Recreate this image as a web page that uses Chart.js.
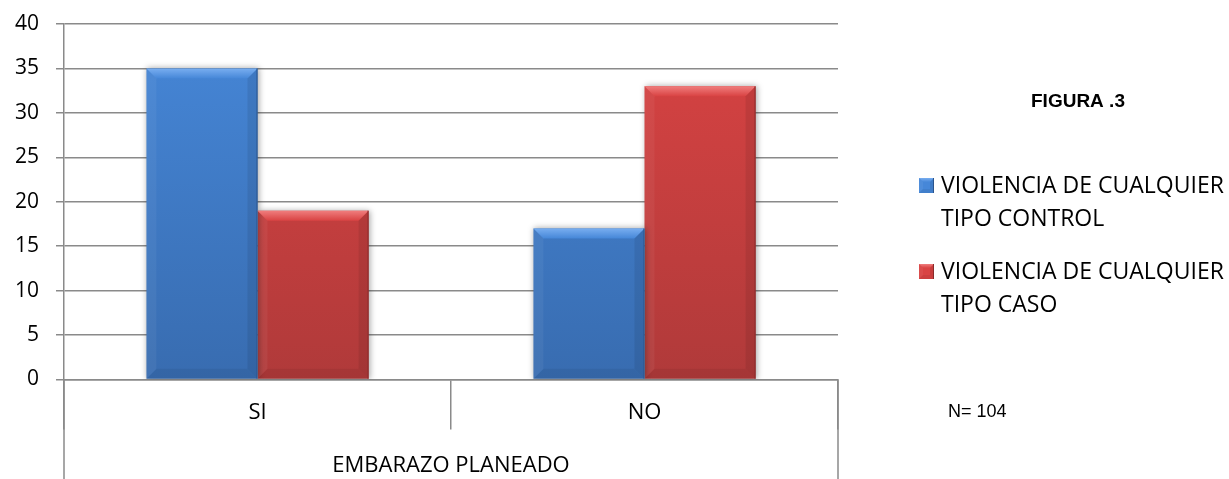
<!DOCTYPE html>
<html><head><meta charset="utf-8">
<script src="https://cdn.jsdelivr.net/npm/chart.js@4/dist/chart.umd.min.js"></script>
<style>html,body{margin:0;padding:0;background:#fff}#wrap{width:1229px;height:479px;position:relative}</style>
</head><body><div id="wrap"><canvas id="c"></canvas></div>
<script>
const categories = ['SI', 'NO'];
const seriesNames = ['VIOLENCIA DE CUALQUIER TIPO CONTROL', 'VIOLENCIA DE CUALQUIER TIPO CASO'];
const legendLines = [['VIOLENCIA DE CUALQUIER', 'TIPO CONTROL'], ['VIOLENCIA DE CUALQUIER', 'TIPO CASO']];
const controlValues = [35, 17];
const casoValues = [19, 33];
const yMin = 0, yMax = 40, yStep = 5;
const axisTitle = 'EMBARAZO PLANEADO';
const figureTitle = 'FIGURA .3';
const sampleNote = 'N= 104';

const palettes = [
  {top: '#4687d8', bottom: '#386cb0', light: '#79aef0', dark: '#2b548c'},
  {top: '#d94343', bottom: '#b03a3a', light: '#f07e7e', dark: '#8a2a2a'}
];
const gridColor = '#8a8a8a';
const textFont = "'Open Sans'";

function barFill(i) {
  return (c) => {
    const a = c.chart.chartArea;
    if (!a) return palettes[i].top;
    const g = c.chart.ctx.createLinearGradient(0, a.top, 0, a.bottom);
    g.addColorStop(0, palettes[i].top);
    g.addColorStop(1, palettes[i].bottom);
    return g;
  };
}
function poly(ctx, pts) {
  ctx.beginPath();
  ctx.moveTo(pts[0][0], pts[0][1]);
  for (let k = 1; k < pts.length; k++) ctx.lineTo(pts[k][0], pts[k][1]);
  ctx.closePath();
}
function drawBevel(ctx, l, t, r, b, p, s) {
  ctx.save();
  let g = ctx.createLinearGradient(0, t, 0, t + s);
  g.addColorStop(0, p.light); g.addColorStop(1, p.top);
  poly(ctx, [[l, t], [r, t], [r - s, t + s], [l + s, t + s]]); ctx.fillStyle = g; ctx.fill();
  poly(ctx, [[l, t], [l + s, t + s], [l + s, b - s], [l, b]]); ctx.fillStyle = 'rgba(255,255,255,0.05)'; ctx.fill();
  poly(ctx, [[r, t], [r, b], [r - s, b - s], [r - s, t + s]]); ctx.fillStyle = 'rgba(0,0,0,0.08)'; ctx.fill();
  poly(ctx, [[l, b], [r, b], [r - s, b - s], [l + s, b - s]]); ctx.fillStyle = 'rgba(0,0,0,0.06)'; ctx.fill();
  ctx.strokeStyle = p.dark; ctx.lineWidth = 1;
  ctx.beginPath(); ctx.moveTo(r - 0.5, t); ctx.lineTo(r - 0.5, b); ctx.stroke();
  ctx.restore();
}

const shadowPlugin = {
  id: 'shadow',
  beforeDatasetsDraw(chart) {
    const ctx = chart.ctx; ctx.save();
    ctx.shadowColor = 'rgba(0,0,0,0.35)'; ctx.shadowBlur = 6; ctx.shadowOffsetX = 1; ctx.shadowOffsetY = 0;
  },
  afterDatasetsDraw(chart) {
    const ctx = chart.ctx; ctx.restore();
    chart.data.datasets.forEach((ds, di) => {
      chart.getDatasetMeta(di).data.forEach(el => {
        const {x, y, width, base} = el.getProps(['x', 'y', 'width', 'base'], true);
        drawBevel(ctx, x - width / 2, y, x + width / 2, base, palettes[di], 10);
      });
    });
  }
};

const decorPlugin = {
  id: 'decor',
  afterDraw(chart) {
    const ctx = chart.ctx, a = chart.chartArea, H = chart.height;
    ctx.save();
    ctx.strokeStyle = gridColor; ctx.lineWidth = 1.5;
    [a.left, a.right].forEach(x => {
      ctx.beginPath(); ctx.moveTo(x, a.bottom); ctx.lineTo(x, H); ctx.stroke();
    });
    ctx.fillStyle = '#000';
    ctx.textBaseline = 'alphabetic';
    ctx.font = "bold 19px 'Liberation Sans'";
    ctx.fillText(figureTitle, 1031, 107);
    ctx.font = "18px 'Liberation Sans'";
    ctx.fillText(sampleNote, 948, 417);
    const centers = [[185.5, 218.5], [271.5, 304.5]];
    ctx.font = "23px " + textFont;
    ctx.textBaseline = 'middle';
    chart.data.datasets.forEach((ds, di) => {
      const c = centers[di];
      const mt = c[0] - 7.5;
      ctx.fillStyle = palettes[di].top;
      ctx.fillRect(919, mt, 15, 15);
      drawBevel(ctx, 919, mt, 934, mt + 15, palettes[di], 4);
      ctx.fillStyle = '#000';
      legendLines[di].forEach((ln, li) => ctx.fillText(ln, 941, c[li] + 1));
    });
    ctx.restore();
  }
};

new Chart(document.getElementById('c'), {
  type: 'bar',
  data: {
    labels: categories,
    datasets: [
      {label: seriesNames[0], data: controlValues, backgroundColor: barFill(0), borderWidth: 0},
      {label: seriesNames[1], data: casoValues, backgroundColor: barFill(1), borderWidth: 0}
    ]
  },
  options: {
    responsive: true, maintainAspectRatio: false, animation: false,
    layout: {padding: {top: 24, right: 391, left: 0, bottom: 0}},
    datasets: {bar: {categoryPercentage: 0.574, barPercentage: 1}},
    plugins: {legend: {display: false}, tooltip: {enabled: false}},
    scales: {
      y: {
        min: yMin, max: yMax,
        ticks: {stepSize: yStep, color: '#000', font: {family: textFont, size: 21}, padding: 17},
        grid: {color: gridColor, lineWidth: 1.5, drawTicks: true, tickLength: 8},
        border: {display: true, color: gridColor, width: 1.5},
        afterFit(s) { s.width = 64; s.paddingTop = 0; s.paddingBottom = 0; }
      },
      x: {
        offset: true,
        ticks: {color: '#000', font: {family: textFont, size: 22}, padding: -30, maxRotation: 0},
        grid: {offset: true, drawOnChartArea: false, drawTicks: true, tickLength: 50, color: gridColor, lineWidth: 1.5},
        border: {display: true, color: gridColor, width: 1.5},
        title: {display: true, text: axisTitle, color: '#000', font: {family: textFont, size: 22}, padding: {top: 0, bottom: 0}},
        afterFit(s) { s.height = 99.5; }
      }
    }
  },
  plugins: [shadowPlugin, decorPlugin]
});
</script>
</body></html>
